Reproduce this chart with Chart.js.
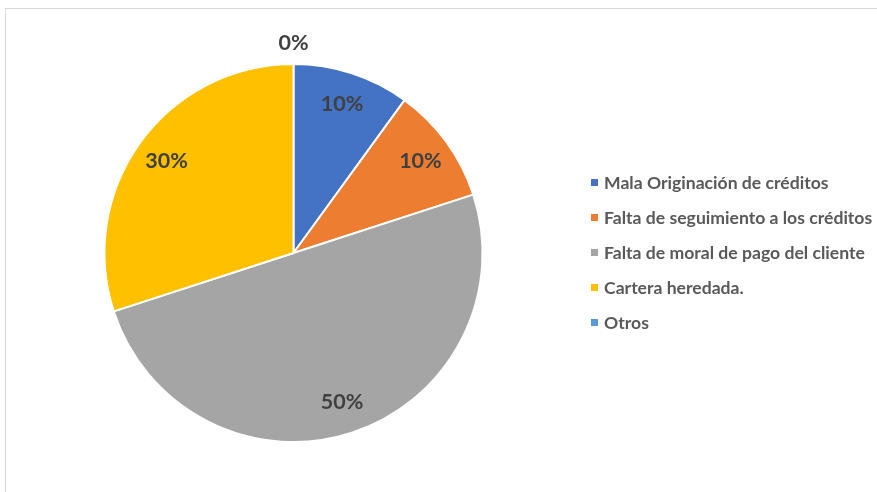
<!DOCTYPE html>
<html>
<head>
<meta charset="utf-8">
<script src="https://cdn.jsdelivr.net/npm/chart.js@4.4.1/dist/chart.umd.min.js"></script>
<style>
  html, body { margin: 0; padding: 0; background: #ffffff; overflow: hidden; }
  #frame { position: absolute; left: 5px; top: 8px; width: 1000px; height: 1000px; border: 1px solid #d9d9d9; box-sizing: border-box; }
  #wrap { position: absolute; left: 0; top: 0; width: 877px; height: 492px; }
</style>
</head>
<body>
<div id="frame"></div>
<div id="wrap"><canvas id="c" width="877" height="492"></canvas></div>
<script>
const categories = [
  "Mala Originación de créditos",
  "Falta de seguimiento a los créditos",
  "Falta de moral de pago del cliente",
  "Cartera heredada.",
  "Otros"
];
const values = [10, 10, 50, 30, 0];
const percentLabels = ["10%", "10%", "50%", "30%", "0%"];
const colors = ["#4472C4", "#ED7D31", "#A5A5A5", "#FFC000", "#5B9BD5"];

const FONT = "Lato, 'Open Sans', sans-serif";

const labelPlugin = {
  id: 'pieLabels',
  afterDatasetsDraw(chart) {
    const ctx = chart.ctx;
    const meta = chart.getDatasetMeta(0);
    ctx.save();
    ctx.font = "bold 21.5px " + FONT;
    ctx.fillStyle = "#404040";
    ctx.textAlign = "center";
    ctx.textBaseline = "middle";
    meta.data.forEach((arc, i) => {
      const p = arc.getProps(['x','y','startAngle','endAngle','outerRadius'], true);
      const mid = (p.startAngle + p.endAngle) / 2;
      const r = values[i] === 0 ? p.outerRadius + 21 : p.outerRadius * 0.83;
      ctx.fillText(percentLabels[i], p.x + Math.cos(mid) * r, p.y + Math.sin(mid) * r);
    });
    ctx.restore();
  }
};

const legendPlugin = {
  id: 'sideLegend',
  afterDraw(chart) {
    const ctx = chart.ctx;
    const x0 = 591, y0 = 182.5, step = 35;
    ctx.save();
    ctx.font = "bold 17.6px " + FONT;
    ctx.textBaseline = "middle";
    ctx.textAlign = "left";
    chart.data.labels.forEach((lab, i) => {
      const y = y0 + i * step;
      ctx.fillStyle = chart.data.datasets[0].backgroundColor[i];
      ctx.fillRect(x0, y - 3.5, 7, 7);
      ctx.fillStyle = "#595959";
      ctx.fillText(lab, x0 + 13, y + 0.5);
    });
    ctx.restore();
  }
};

new Chart(document.getElementById('c'), {
  type: 'pie',
  data: {
    labels: categories,
    datasets: [{
      data: values,
      backgroundColor: colors,
      borderColor: '#ffffff',
      borderWidth: 2
    }]
  },
  options: {
    responsive: false,
    animation: false,
    events: [],
    layout: { padding: { left: 103.5, right: 393.5, top: 63, bottom: 49 } },
    plugins: {
      legend: { display: false },
      tooltip: { enabled: false }
    }
  },
  plugins: [labelPlugin, legendPlugin]
});
</script>
</body>
</html>
